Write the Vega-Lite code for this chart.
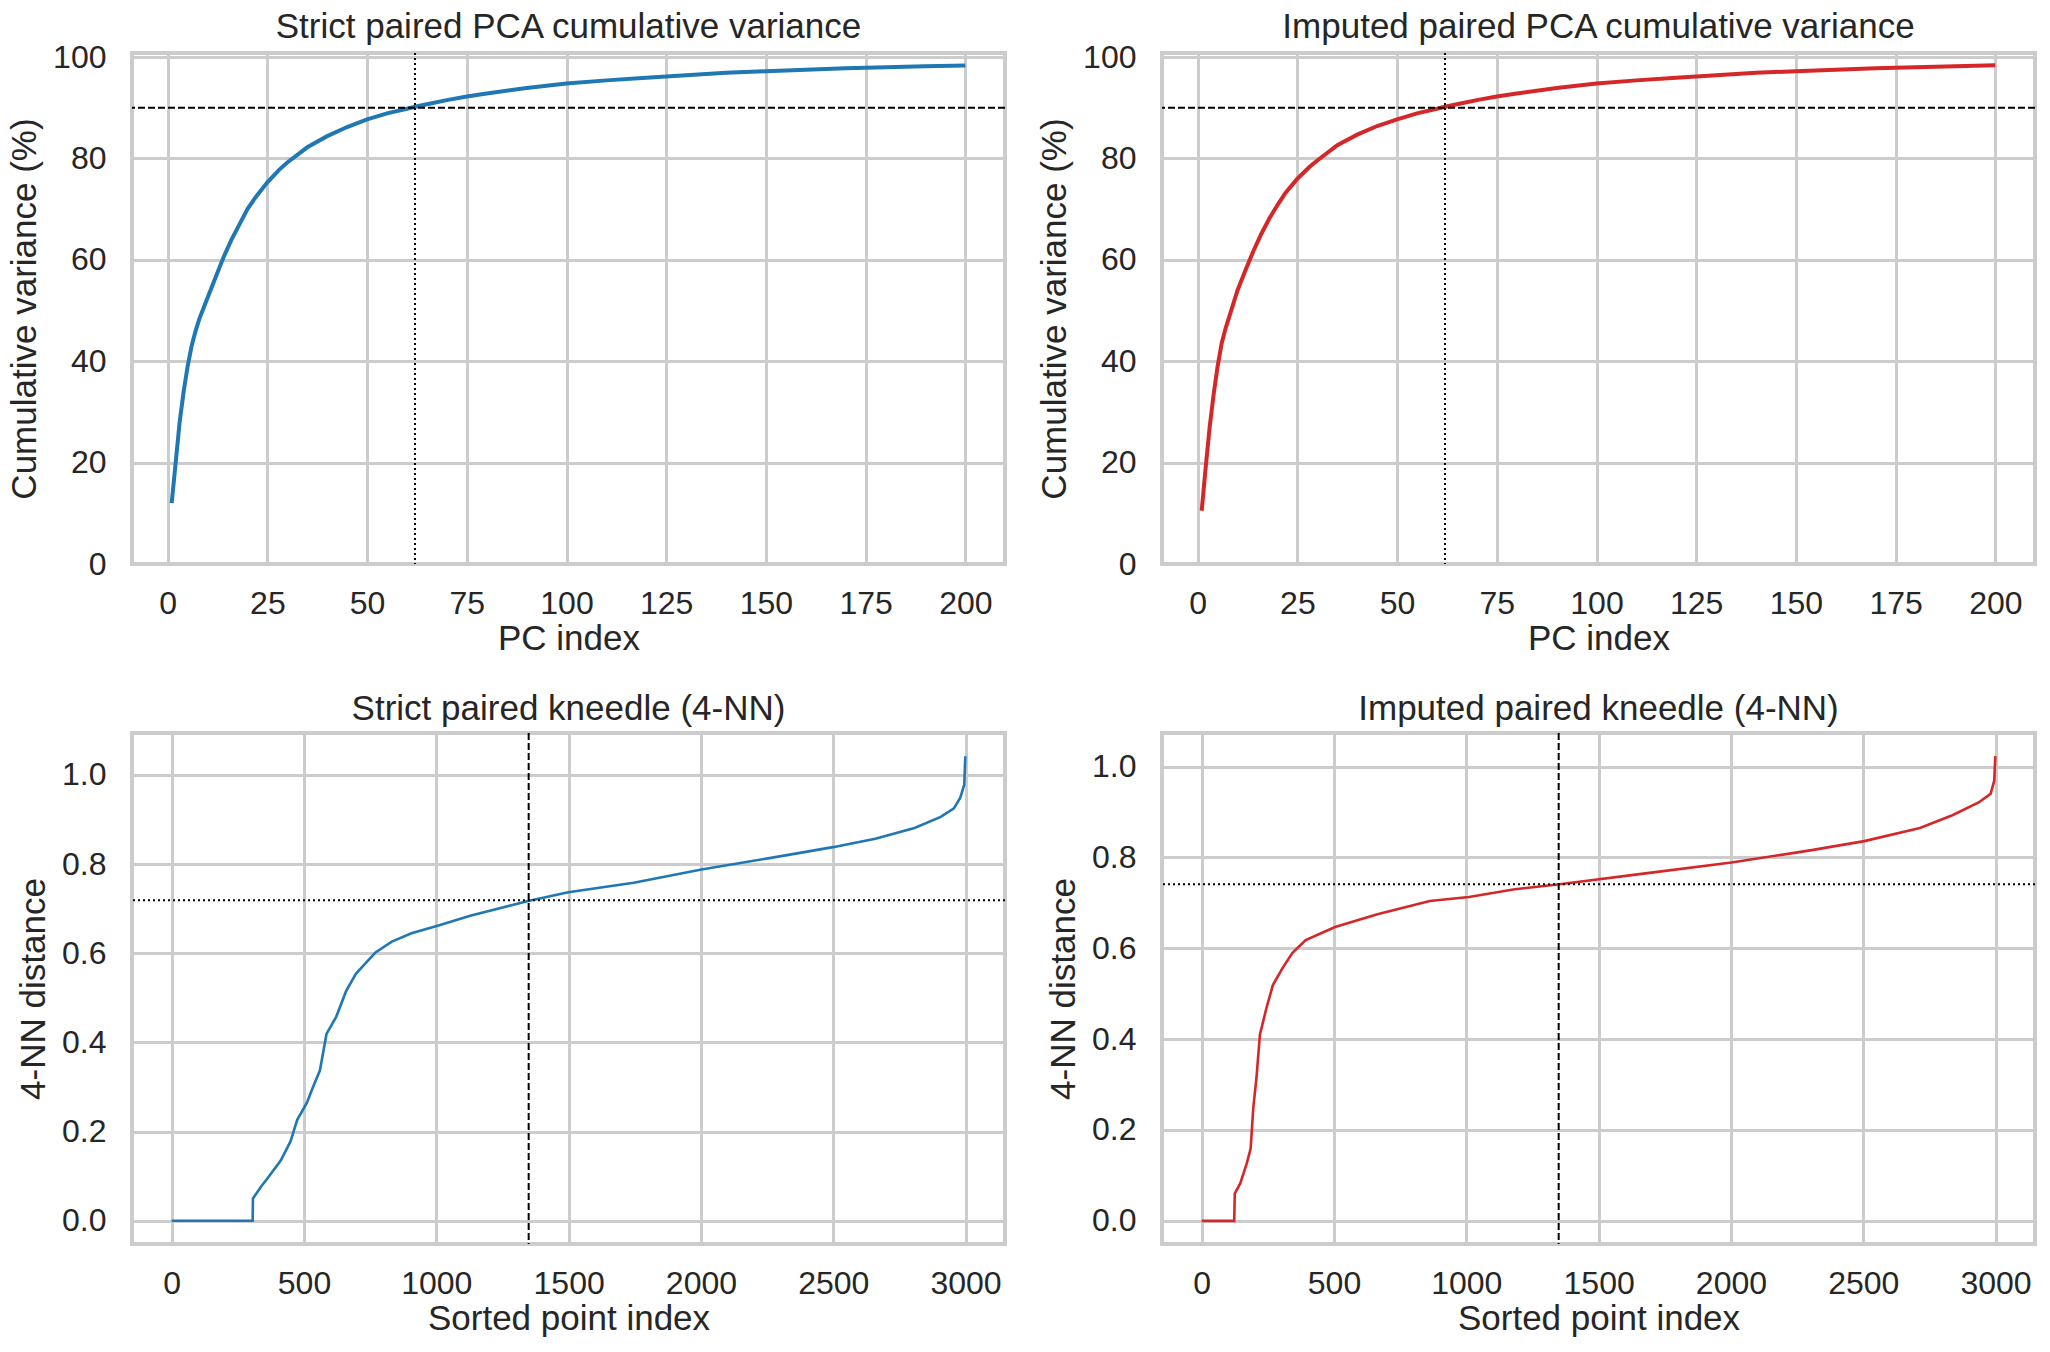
{
  "$schema": "https://vega.github.io/schema/vega-lite/v6.json",
  "background": "white",
  "padding": {"left": 5, "top": 8, "right": 10, "bottom": 5},
  "config": {
    "font": "Liberation Sans",
    "view": {"stroke": "#cccccc", "strokeWidth": 4},
    "axis": {
      "grid": true, "gridColor": "#cccccc", "gridWidth": 3,
      "domain": false, "ticks": false,
      "labelFontSize": 32, "titleFontSize": 35,
      "labelColor": "#262626", "titleColor": "#262626",
      "titleFontWeight": "normal", "labelPadding": 24, "titlePadding": 2,
      "labelFont": "Liberation Sans", "titleFont": "Liberation Sans"
    },
    "axisY": {"labelPadding": 26, "titlePadding": 10},
    "title": {"fontSize": 35, "fontWeight": "normal", "color": "#262626", "offset": -4, "frame": "group", "font": "Liberation Sans"}
  },
  "datasets": {
    "pca_strict": [
      {"pc": 1, "cum": 12.0}, {"pc": 2, "cum": 20.0}, {"pc": 3, "cum": 28.0}, {"pc": 4, "cum": 34.0},
      {"pc": 5, "cum": 39.0}, {"pc": 6, "cum": 43.0}, {"pc": 7, "cum": 46.0}, {"pc": 8, "cum": 48.5},
      {"pc": 9, "cum": 50.5}, {"pc": 10, "cum": 52.5}, {"pc": 12, "cum": 56.5}, {"pc": 14, "cum": 60.5},
      {"pc": 16, "cum": 64.0}, {"pc": 18, "cum": 67.0}, {"pc": 20, "cum": 70.0}, {"pc": 22, "cum": 72.3},
      {"pc": 25, "cum": 75.3}, {"pc": 28, "cum": 77.8}, {"pc": 30, "cum": 79.2}, {"pc": 35, "cum": 82.2},
      {"pc": 40, "cum": 84.4}, {"pc": 45, "cum": 86.2}, {"pc": 50, "cum": 87.7}, {"pc": 55, "cum": 88.9},
      {"pc": 60, "cum": 89.8}, {"pc": 62, "cum": 90.2}, {"pc": 65, "cum": 90.7}, {"pc": 70, "cum": 91.5},
      {"pc": 75, "cum": 92.2}, {"pc": 80, "cum": 92.8}, {"pc": 90, "cum": 93.9}, {"pc": 100, "cum": 94.8},
      {"pc": 110, "cum": 95.4}, {"pc": 120, "cum": 95.9}, {"pc": 130, "cum": 96.4}, {"pc": 140, "cum": 96.9},
      {"pc": 150, "cum": 97.2}, {"pc": 160, "cum": 97.5}, {"pc": 170, "cum": 97.8}, {"pc": 180, "cum": 98.0},
      {"pc": 190, "cum": 98.2}, {"pc": 200, "cum": 98.35}
    ],
    "pca_imputed": [
      {"pc": 1, "cum": 10.5}, {"pc": 2, "cum": 19.0}, {"pc": 3, "cum": 27.0}, {"pc": 4, "cum": 33.5},
      {"pc": 5, "cum": 39.0}, {"pc": 6, "cum": 43.5}, {"pc": 7, "cum": 46.5}, {"pc": 8, "cum": 49.0},
      {"pc": 9, "cum": 51.5}, {"pc": 10, "cum": 54.0}, {"pc": 12, "cum": 58.0}, {"pc": 14, "cum": 61.8},
      {"pc": 16, "cum": 65.2}, {"pc": 18, "cum": 68.2}, {"pc": 20, "cum": 70.8}, {"pc": 22, "cum": 73.2},
      {"pc": 25, "cum": 76.0}, {"pc": 28, "cum": 78.3}, {"pc": 30, "cum": 79.6}, {"pc": 35, "cum": 82.6},
      {"pc": 40, "cum": 84.7}, {"pc": 45, "cum": 86.4}, {"pc": 50, "cum": 87.7}, {"pc": 55, "cum": 88.9},
      {"pc": 60, "cum": 89.8}, {"pc": 62, "cum": 90.2}, {"pc": 65, "cum": 90.7}, {"pc": 70, "cum": 91.5},
      {"pc": 75, "cum": 92.2}, {"pc": 80, "cum": 92.8}, {"pc": 90, "cum": 93.9}, {"pc": 100, "cum": 94.8},
      {"pc": 110, "cum": 95.4}, {"pc": 120, "cum": 95.9}, {"pc": 130, "cum": 96.4}, {"pc": 140, "cum": 96.9},
      {"pc": 150, "cum": 97.2}, {"pc": 160, "cum": 97.5}, {"pc": 170, "cum": 97.8}, {"pc": 180, "cum": 98.0},
      {"pc": 190, "cum": 98.2}, {"pc": 200, "cum": 98.4}
    ],
    "knn_strict": [
      {"i": 0, "d": 0.0}, {"i": 306, "d": 0.0}, {"i": 307, "d": 0.05}, {"i": 338, "d": 0.077},
      {"i": 363, "d": 0.096}, {"i": 412, "d": 0.135}, {"i": 449, "d": 0.178}, {"i": 474, "d": 0.226},
      {"i": 511, "d": 0.265}, {"i": 536, "d": 0.303}, {"i": 560, "d": 0.337}, {"i": 585, "d": 0.419},
      {"i": 622, "d": 0.458}, {"i": 659, "d": 0.515}, {"i": 696, "d": 0.554}, {"i": 733, "d": 0.578},
      {"i": 770, "d": 0.602}, {"i": 832, "d": 0.626}, {"i": 906, "d": 0.645}, {"i": 1005, "d": 0.662},
      {"i": 1128, "d": 0.684}, {"i": 1351, "d": 0.718}, {"i": 1499, "d": 0.737}, {"i": 1746, "d": 0.758},
      {"i": 2002, "d": 0.788}, {"i": 2314, "d": 0.819}, {"i": 2499, "d": 0.838}, {"i": 2659, "d": 0.857},
      {"i": 2807, "d": 0.881}, {"i": 2906, "d": 0.906}, {"i": 2956, "d": 0.925}, {"i": 2980, "d": 0.949},
      {"i": 2995, "d": 0.978}, {"i": 2999, "d": 1.042}
    ],
    "knn_imputed": [
      {"i": 0, "d": 0.0}, {"i": 123, "d": 0.0}, {"i": 125, "d": 0.06}, {"i": 146, "d": 0.083},
      {"i": 170, "d": 0.126}, {"i": 185, "d": 0.159}, {"i": 195, "d": 0.249}, {"i": 207, "d": 0.315},
      {"i": 220, "d": 0.41}, {"i": 244, "d": 0.467}, {"i": 269, "d": 0.519}, {"i": 306, "d": 0.557},
      {"i": 343, "d": 0.59}, {"i": 393, "d": 0.618}, {"i": 504, "d": 0.647}, {"i": 664, "d": 0.675},
      {"i": 862, "d": 0.704}, {"i": 1010, "d": 0.713}, {"i": 1183, "d": 0.73}, {"i": 1353, "d": 0.741},
      {"i": 1677, "d": 0.765}, {"i": 2002, "d": 0.789}, {"i": 2294, "d": 0.815}, {"i": 2504, "d": 0.836},
      {"i": 2714, "d": 0.865}, {"i": 2837, "d": 0.893}, {"i": 2936, "d": 0.921}, {"i": 2981, "d": 0.94},
      {"i": 2995, "d": 0.969}, {"i": 2999, "d": 1.023}
    ],
    "refs_strict_pca": [{"h": 90, "v": 62}],
    "refs_imputed_pca": [{"h": 90, "v": 62}],
    "refs_strict_knn": [{"h": 0.719, "v": 1349}],
    "refs_imputed_knn": [{"h": 0.741, "v": 1349}]
  },
  "columns": 2,
  "spacing": {"row": 169, "column": 157},
  "bounds": "flush",
  "concat": [
    {
      "title": {"text": "Strict paired PCA cumulative variance", "offset": -4},
      "width": 873, "height": 511,
      "layer": [
        {
          "data": {"name": "pca_strict"},
          "mark": {"type": "line", "color": "#1f77b4", "strokeWidth": 4},
          "encoding": {
            "x": {"field": "pc", "type": "quantitative", "title": "PC index",
                  "scale": {"domain": [-8.95, 209.95], "nice": false, "zero": false},
                  "axis": {"values": [0, 25, 50, 75, 100, 125, 150, 175, 200]}},
            "y": {"field": "cum", "type": "quantitative", "title": "Cumulative variance (%)",
                  "scale": {"domain": [0, 100.8], "nice": false},
                  "axis": {"values": [0, 20, 40, 60, 80, 100]}}
          }
        },
        {
          "data": {"name": "refs_strict_pca"},
          "mark": {"type": "rule", "color": "black", "strokeWidth": 2, "strokeDash": [7, 3]},
          "encoding": {"y": {"field": "h", "type": "quantitative"}}
        },
        {
          "data": {"name": "refs_strict_pca"},
          "mark": {"type": "rule", "color": "black", "strokeWidth": 2, "strokeDash": [2, 3]},
          "encoding": {"x": {"field": "v", "type": "quantitative"}}
        }
      ]
    },
    {
      "title": {"text": "Imputed paired PCA cumulative variance", "offset": -4},
      "width": 873, "height": 511,
      "layer": [
        {
          "data": {"name": "pca_imputed"},
          "mark": {"type": "line", "color": "#d62728", "strokeWidth": 4},
          "encoding": {
            "x": {"field": "pc", "type": "quantitative", "title": "PC index",
                  "scale": {"domain": [-8.95, 209.95], "nice": false, "zero": false},
                  "axis": {"values": [0, 25, 50, 75, 100, 125, 150, 175, 200]}},
            "y": {"field": "cum", "type": "quantitative", "title": "Cumulative variance (%)",
                  "scale": {"domain": [0, 100.8], "nice": false},
                  "axis": {"values": [0, 20, 40, 60, 80, 100]}}
          }
        },
        {
          "data": {"name": "refs_imputed_pca"},
          "mark": {"type": "rule", "color": "black", "strokeWidth": 2, "strokeDash": [7, 3]},
          "encoding": {"y": {"field": "h", "type": "quantitative"}}
        },
        {
          "data": {"name": "refs_imputed_pca"},
          "mark": {"type": "rule", "color": "black", "strokeWidth": 2, "strokeDash": [2, 3]},
          "encoding": {"x": {"field": "v", "type": "quantitative"}}
        }
      ]
    },
    {
      "title": {"text": "Strict paired kneedle (4-NN)", "offset": 5},
      "width": 873, "height": 511,
      "layer": [
        {
          "data": {"name": "knn_strict"},
          "mark": {"type": "line", "color": "#1f77b4", "strokeWidth": 2.6},
          "encoding": {
            "x": {"field": "i", "type": "quantitative", "title": "Sorted point index",
                  "scale": {"domain": [-150, 3149], "nice": false, "zero": false},
                  "axis": {"values": [0, 500, 1000, 1500, 2000, 2500, 3000], "format": "d"}},
            "y": {"field": "d", "type": "quantitative", "title": "4-NN distance",
                  "scale": {"domain": [-0.052, 1.094], "nice": false, "zero": false},
                  "axis": {"values": [0, 0.2, 0.4, 0.6, 0.8, 1.0], "format": ".1f"}}
          }
        },
        {
          "data": {"name": "refs_strict_knn"},
          "mark": {"type": "rule", "color": "black", "strokeWidth": 2, "strokeDash": [2, 3]},
          "encoding": {"y": {"field": "h", "type": "quantitative"}}
        },
        {
          "data": {"name": "refs_strict_knn"},
          "mark": {"type": "rule", "color": "black", "strokeWidth": 2, "strokeDash": [7, 3]},
          "encoding": {"x": {"field": "v", "type": "quantitative"}}
        }
      ]
    },
    {
      "title": {"text": "Imputed paired kneedle (4-NN)", "offset": 5},
      "width": 873, "height": 511,
      "layer": [
        {
          "data": {"name": "knn_imputed"},
          "mark": {"type": "line", "color": "#d62728", "strokeWidth": 2.6},
          "encoding": {
            "x": {"field": "i", "type": "quantitative", "title": "Sorted point index",
                  "scale": {"domain": [-150, 3149], "nice": false, "zero": false},
                  "axis": {"values": [0, 500, 1000, 1500, 2000, 2500, 3000], "format": "d"}},
            "y": {"field": "d", "type": "quantitative", "title": "4-NN distance",
                  "scale": {"domain": [-0.051, 1.074], "nice": false, "zero": false},
                  "axis": {"values": [0, 0.2, 0.4, 0.6, 0.8, 1.0], "format": ".1f"}}
          }
        },
        {
          "data": {"name": "refs_imputed_knn"},
          "mark": {"type": "rule", "color": "black", "strokeWidth": 2, "strokeDash": [2, 3]},
          "encoding": {"y": {"field": "h", "type": "quantitative"}}
        },
        {
          "data": {"name": "refs_imputed_knn"},
          "mark": {"type": "rule", "color": "black", "strokeWidth": 2, "strokeDash": [7, 3]},
          "encoding": {"x": {"field": "v", "type": "quantitative"}}
        }
      ]
    }
  ]
}
